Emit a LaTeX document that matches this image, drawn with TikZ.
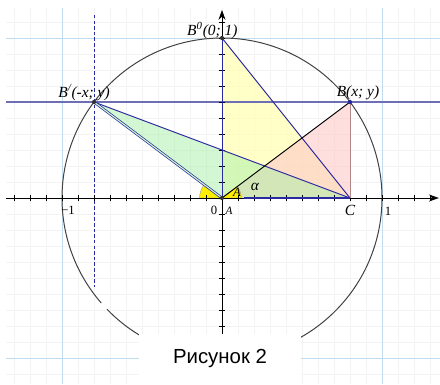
\documentclass[tikz,border=0pt]{standalone}
\usepackage{fontspec}
\setmainfont{Liberation Serif}
\newfontfamily\capfont{Liberation Sans}
\usepackage{tikz}
\usetikzlibrary{arrows.meta,positioning,calc}
\definecolor{gridgray}{HTML}{F3F3F3}
\definecolor{unitblue}{HTML}{BFDDF0}
\definecolor{levelblue}{HTML}{6E6EB4}
\definecolor{segblue}{HTML}{2A2AA0}
\definecolor{yellowlt}{HTML}{FFFFB4}
\definecolor{pinklt}{HTML}{FFC8C8}
\definecolor{greenlt}{HTML}{A8F0A8}
\definecolor{angyellow}{HTML}{FFEE00}
\definecolor{legpink}{HTML}{B08888}

\begin{document}
\begin{tikzpicture}[
  x=4cm, y=4cm,
  lbl/.style={font=\fontsize{11}{13}\selectfont\itshape, inner sep=0pt},
  ticklbl/.style={font=\fontsize{9}{11}\selectfont, inner sep=0pt},
  seg/.style={draw=segblue, line width=0.7pt},
  circ/.style={draw=black!75, line width=0.7pt},
  axis/.style={draw=black, line width=0.6pt},
  dot/.style={circle, fill=#1, inner sep=0pt, minimum size=3pt},
  caption/.style={fill=white, minimum width=4.05cm, minimum height=1.25cm, font=\capfont\fontsize{14.5}{16}\selectfont},
]
\useasboundingbox (-1.3875,-1.1625) rectangle (1.3625,1.2375);

% background grid
\draw[gridgray, line width=0.4pt] (-1.35,-1.1625) grid[step=0.4cm] (1.3625,1.1875);
\draw[unitblue, line width=0.7pt] (-1,-1.1625) -- (-1,1.1875);
\draw[unitblue, line width=0.7pt] (1,-1.1625) -- (1,1.1875);
\draw[unitblue, line width=0.7pt] (-1.35,1) -- (1.3625,1);
\draw[unitblue, line width=0.7pt] (-1.35,-1) -- (1.3625,-1);

% points
\coordinate (A) at (0,0);
\coordinate (B) at (0.8,0.6);
\coordinate (Bp) at (-0.8,0.6);
\coordinate (B0) at (0,1);
\coordinate (C) at (0.8,0);

% triangles
\fill[yellowlt, opacity=0.75] (A) -- (B0) -- (C) -- cycle;
\fill[pinklt, opacity=0.6] (A) -- (B) -- (C) -- cycle;
\fill[greenlt, opacity=0.5] (Bp) -- (A) -- (C) -- cycle;

% angles
\filldraw[fill=angyellow, draw=black!40, line width=0.3pt] (A) -- (0.12,0) arc[start angle=0, end angle=36.87, radius=0.12] -- cycle;
\filldraw[fill=angyellow, draw=black!40, line width=0.3pt] (A) -- (143.13:0.14) arc[start angle=143.13, end angle=180, radius=0.14] -- cycle;

% unit circle
\draw[circ] (224:1) arc[start angle=224, end angle=581, radius=1];

% level line and projection
\draw[levelblue, line width=1.3pt] (-1.35,0.6) -- (1.3625,0.6);
\draw[segblue, line width=0.7pt, dash pattern=on 2.5pt off 1.5pt] (-0.8,1.144) -- (-0.8,-0.556);

% axes
\draw[axis, -{Stealth[length=7pt, width=5pt]}] (-1.35,0) -- (1.355,0);
\draw[axis, -{Stealth[length=7pt, width=5pt]}] (0,-0.85) -- (0,1.175);
\foreach \t in {-13,...,13}
  \draw[axis] (\t/10,-0.02) -- (\t/10,0.02);
\foreach \t in {-8,...,11}
  \draw[axis] (-0.02,\t/10) -- (0.02,\t/10);

% segments
\draw[seg] (A) -- (B0);
\draw[seg] (B0) -- (C);
\draw[seg] (Bp) -- (C);
\draw[segblue, line width=0.5pt, double=greenlt!60, double distance=0.8pt] (Bp) -- (A);
\draw[seg, line width=1pt] (0.14,0) -- (C);
\draw[black, line width=0.7pt] (A) -- (B);
\draw[legpink, line width=0.7pt] (B) -- (C);

\node[dot=segblue] at (B) {};
\node[dot=black!80] at (Bp) {};
\node[dot=black!80] at (B0) {};
\node[dot=black!80] at (A) {};

% labels
\node[lbl] (lB0) at ($(B0)+(-0.06,0.045)$) {B\textsuperscript{0}(0; 1)};
\node[lbl] (lB) at ($(B)+(0.05,0.058)$) {B(x; y)};
\node[lbl] (lBp) at ($(Bp)+(-0.062,0.06)$) {B\textsuperscript{/}(-x; y)};
\node[lbl] (lalpha) at (0.206,0.069) {α};
\node[lbl, font=\fontsize{9}{10}\selectfont\itshape] (lAin) at (0.094,0.035) {A};
\node[lbl, font=\fontsize{8}{10}\selectfont\itshape] (lA) at (0.044,-0.08) {A};
\node[lbl] (lC) at ($(C)+(0,-0.08)$) {C};
\node[ticklbl] (l0) at (-0.05,-0.08) {0};
\node[ticklbl] (lm1) at (-0.9625,-0.08) {\textminus1};
\node[ticklbl] (l1) at (1.0375,-0.085) {1};

% caption
\node[caption] (cap) at (-0.0125,-1.005) {Рисунок 2};
\end{tikzpicture}
\end{document}
